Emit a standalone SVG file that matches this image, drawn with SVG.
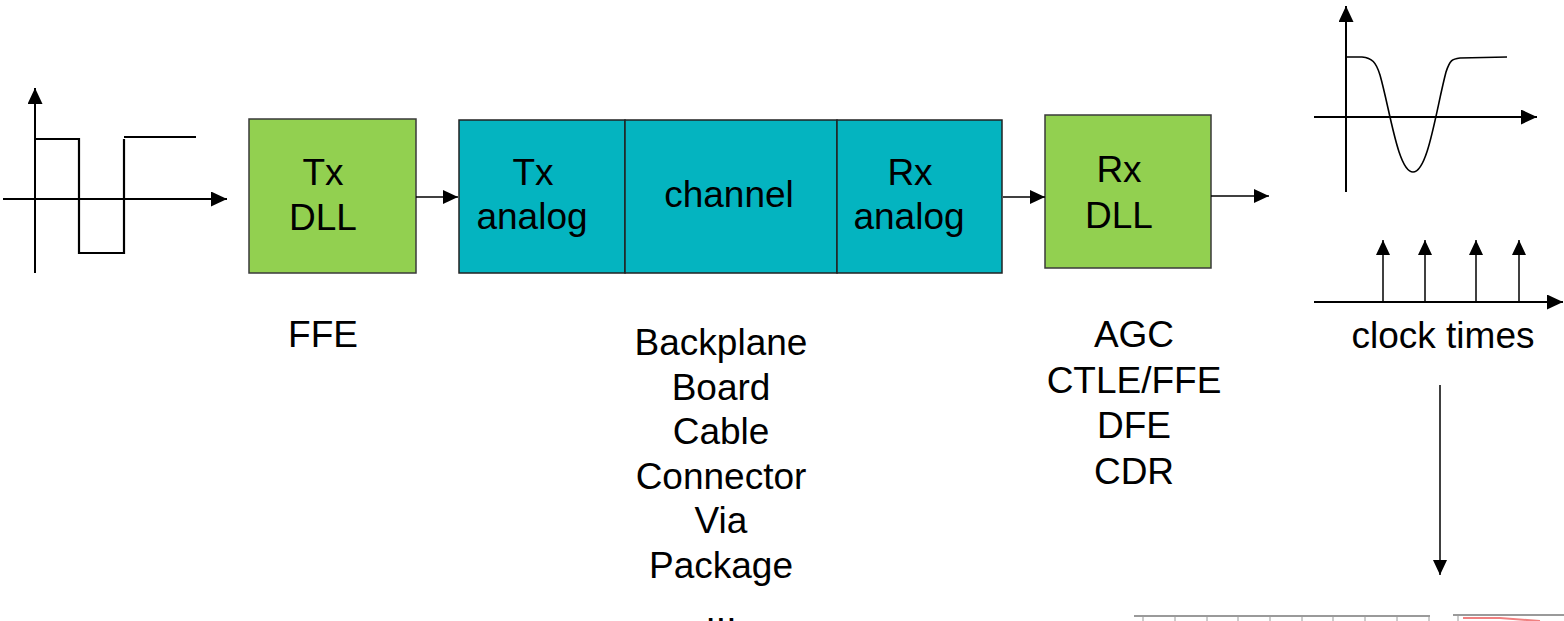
<svg xmlns="http://www.w3.org/2000/svg" width="1564" height="621" viewBox="0 0 1564 621">
<style>
text{font-family:"Liberation Sans",Arial,sans-serif;font-size:37px;fill:#000;text-anchor:middle}
.green{fill:#92D050;stroke:#3a3a3a;stroke-width:1.5}
.teal{fill:#04B4C0;stroke:#222;stroke-width:1.5}
.conn{stroke:#000;stroke-width:1.5;fill:none}
.axis{stroke:#000;stroke-width:2;fill:none}
.wave{stroke:#000;stroke-width:2.2;fill:none}
</style>
<defs>
<marker id="ah" viewBox="0 0 15 14" refX="15" refY="7" markerWidth="15" markerHeight="14" markerUnits="userSpaceOnUse" orient="auto">
<path d="M0,0 L15,7 L0,14 Z" fill="#000"/>
</marker>
<marker id="ahAxis" viewBox="0 0 16 15" refX="16" refY="7.5" markerWidth="16" markerHeight="15" markerUnits="userSpaceOnUse" orient="auto">
<path d="M0,0 L16,7.5 L0,15 Z" fill="#000"/>
</marker>
</defs>

<g id="input-waveform">
<line class="axis" x1="35" y1="273" x2="35" y2="88" marker-end="url(#ahAxis)"/>
<line class="axis" x1="3" y1="199" x2="227" y2="199" marker-end="url(#ahAxis)"/>
<polyline class="wave" points="35,139 79,139 79,253 124,253 124,139"/>
<line class="wave" x1="124" y1="137" x2="196" y2="137"/>
</g>

<g id="tx-dll">
<rect class="green" x="249" y="119" width="167" height="154"/>
<text x="323" y="185">Tx</text>
<text x="323" y="230">DLL</text>
</g>

<g id="tx-analog">
<rect class="teal" x="459" y="120" width="166" height="153"/>
<text x="533" y="185">Tx</text>
<text x="532" y="229">analog</text>
</g>

<g id="channel">
<rect class="teal" x="625" y="120" width="212" height="153"/>
<text x="729" y="207">channel</text>
</g>

<g id="rx-analog">
<rect class="teal" x="837" y="120" width="165" height="153"/>
<text x="910" y="185">Rx</text>
<text x="909" y="229">analog</text>
</g>

<g id="rx-dll">
<rect class="green" x="1045" y="115" width="166" height="153"/>
<text x="1119" y="182">Rx</text>
<text x="1119" y="228">DLL</text>
</g>

<g id="connectors">
<line class="conn" x1="416" y1="197" x2="458" y2="197" marker-end="url(#ah)"/>
<line class="conn" x1="1003" y1="197" x2="1045" y2="197" marker-end="url(#ah)"/>
<line class="conn" x1="1211" y1="196" x2="1269" y2="196" marker-end="url(#ah)"/>
<line class="conn" x1="1440" y1="385" x2="1440" y2="575" marker-end="url(#ah)"/>
</g>

<g id="output-waveform">
<line class="axis" x1="1346" y1="192" x2="1346" y2="6" marker-end="url(#ahAxis)"/>
<line class="axis" x1="1314" y1="117" x2="1537" y2="117" marker-end="url(#ahAxis)"/>
<path d="M1346,57 L1362,57 C1372,58 1376,62 1380,75 C1390,110 1398,172 1413,172 C1428,172 1436,110 1446,72 C1450,60 1452,59 1460,58 L1507,57" fill="none" stroke="#000" stroke-width="1.6"/>
</g>

<g id="clock">
<line class="axis" x1="1314" y1="302" x2="1563" y2="302" marker-end="url(#ahAxis)"/>
<line class="conn" x1="1383" y1="302" x2="1383" y2="240" marker-end="url(#ah)"/>
<line class="conn" x1="1425" y1="302" x2="1425" y2="240" marker-end="url(#ah)"/>
<line class="conn" x1="1476" y1="302" x2="1476" y2="240" marker-end="url(#ah)"/>
<line class="conn" x1="1519" y1="302" x2="1519" y2="240" marker-end="url(#ah)"/>
<text x="1443" y="348">clock times</text>
</g>

<g id="labels">
<text x="323" y="347">FFE</text>
<text x="721" y="355">Backplane</text>
<text x="721" y="399.5">Board</text>
<text x="721" y="444">Cable</text>
<text x="721" y="488.5">Connector</text>
<text x="721" y="533">Via</text>
<text x="721" y="577.5">Package</text>
<text x="721" y="622">...</text>
<text x="1134" y="347">AGC</text>
<text x="1134" y="393">CTLE/FFE</text>
<text x="1134" y="438">DFE</text>
<text x="1134" y="484">CDR</text>
</g>

<g id="bottom-plots">
<line x1="1134" y1="616" x2="1430" y2="616" stroke="#9a9a9a" stroke-width="2"/>
<path d="M1143,616v5 M1175,616v5 M1207,616v5 M1238,616v5 M1270,616v5 M1302,616v5 M1333,616v5 M1365,616v5 M1397,616v5 M1429,616v5" stroke="#9a9a9a" stroke-width="1"/>
<line x1="1453" y1="615" x2="1564" y2="615" stroke="#9a9a9a" stroke-width="2"/>
<path d="M1458,615v6" stroke="#9a9a9a" stroke-width="1"/>
<path d="M1463,618 L1500,618 L1540,621" stroke="#F08080" stroke-width="2" fill="none"/>
</g>
</svg>
